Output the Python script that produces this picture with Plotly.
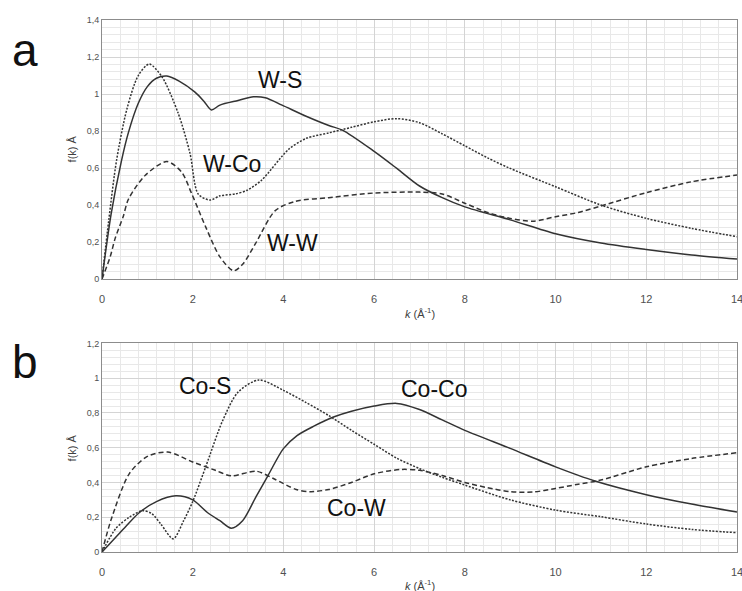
import plotly.graph_objects as go
from plotly.subplots import make_subplots

# ---- panel a: W-centred scattering functions f(k) ----
k_ws = [0, 0.2, 0.43, 0.58, 0.8, 1.0, 1.2, 1.43, 1.7, 2.05, 2.25, 2.41, 2.6, 3.0, 3.34, 3.6, 3.97,
        4.5, 5.0, 5.3, 6.0, 6.5, 7.0, 7.5, 8.0, 9.0, 10.0, 11.0, 12.0, 13.0, 14.0]
f_ws = [0, 0.35, 0.64, 0.79, 0.95, 1.04, 1.085, 1.097, 1.07, 1.01, 0.96, 0.914, 0.94, 0.965, 0.985, 0.98, 0.94,
        0.88, 0.83, 0.805, 0.69, 0.598, 0.503, 0.44, 0.39, 0.32, 0.245, 0.195, 0.16, 0.13, 0.108]

k_wco = [0, 0.15, 0.32, 0.55, 0.8, 1.04, 1.32, 1.68, 1.94, 2.12, 2.38, 2.6, 2.94, 3.2, 3.52, 4.11, 4.5,
         5.0, 5.5, 6.0, 6.5, 7.0, 7.5, 8.0, 8.5, 9.0, 10.0, 11.0, 12.0, 13.0, 14.0]
f_wco = [0, 0.32, 0.64, 0.92, 1.10, 1.162, 1.094, 0.896, 0.68, 0.46, 0.427, 0.45, 0.46, 0.48, 0.535, 0.70, 0.76,
         0.79, 0.82, 0.85, 0.867, 0.845, 0.785, 0.72, 0.655, 0.598, 0.499, 0.40, 0.328, 0.274, 0.229]

k_ww = [0, 0.18, 0.29, 0.47, 0.58, 0.95, 1.43, 1.75, 1.98, 2.3, 2.6, 2.9, 3.1, 3.38, 3.82, 4.26, 5.0,
        6.0, 7.0, 7.5, 8.0, 8.5, 9.0, 9.5, 10.0, 10.5, 11.0, 12.0, 13.0, 14.0]
f_ww = [0, 0.12, 0.22, 0.34, 0.43, 0.56, 0.635, 0.58, 0.46, 0.274, 0.12, 0.045, 0.08, 0.19, 0.37, 0.42, 0.44,
        0.465, 0.47, 0.46, 0.41, 0.36, 0.328, 0.313, 0.337, 0.36, 0.395, 0.467, 0.526, 0.562]

# ---- panel b: Co-centred scattering functions f(k) ----
k_cos = [0, 0.31, 0.6, 0.9, 1.1, 1.3, 1.57, 1.8, 2.0, 2.3, 2.66, 3.0, 3.46, 4.0, 4.5, 5.0, 5.5, 6.0,
         6.5, 7.0, 7.5, 8.0, 9.0, 10.0, 11.0, 12.0, 13.0, 14.0]
f_cos = [0, 0.137, 0.2, 0.238, 0.22, 0.16, 0.076, 0.18, 0.29, 0.5, 0.756, 0.92, 0.99, 0.93, 0.86, 0.785, 0.70, 0.62,
         0.54, 0.48, 0.43, 0.385, 0.30, 0.241, 0.203, 0.161, 0.13, 0.111]

k_coco = [0, 0.5, 0.82, 1.2, 1.63, 2.0, 2.33, 2.6, 2.85, 3.1, 3.4, 3.66, 4.0, 4.3, 4.67, 5.12, 5.5, 6.0,
          6.5, 7.0, 7.5, 8.0, 9.0, 10.0, 10.85, 12.0, 13.0, 14.0]
f_coco = [0, 0.14, 0.226, 0.29, 0.323, 0.30, 0.226, 0.18, 0.137, 0.18, 0.32, 0.44, 0.595, 0.67, 0.724, 0.778, 0.81, 0.84,
          0.855, 0.82, 0.76, 0.70, 0.596, 0.49, 0.41, 0.33, 0.276, 0.23]

k_cow = [0, 0.2, 0.6, 1.0, 1.45, 2.0, 2.5, 2.85, 3.4, 3.8, 4.28, 4.6, 5.0, 5.5, 6.0, 6.6, 7.0, 7.5,
         8.0, 8.5, 9.0, 9.5, 10.0, 10.5, 11.0, 12.0, 13.0, 14.0]
f_cow = [0, 0.185, 0.45, 0.55, 0.575, 0.518, 0.47, 0.438, 0.465, 0.42, 0.36, 0.347, 0.36, 0.40, 0.45, 0.475, 0.47, 0.44,
         0.40, 0.37, 0.347, 0.345, 0.366, 0.39, 0.414, 0.49, 0.538, 0.571]

x_ticks = [0, 2, 4, 6, 8, 10, 12, 14]

LINE = "#333333"
SOLID = "solid"
FINE = "2px,1.5px"
DASH = "5px,3px"

fig = make_subplots(rows=2, cols=1)

def add(kv, fv, dash, row):
    fig.add_trace(go.Scatter(x=kv, y=fv, mode="lines",
                             line=dict(color=LINE, width=1.5, dash=dash, shape="spline", smoothing=0.8),
                             showlegend=False, hoverinfo="skip", cliponaxis=False), row=row, col=1)

add(k_ws, f_ws, SOLID, 1)
add(k_wco, f_wco, FINE, 1)
add(k_ww, f_ww, DASH, 1)
add(k_cos, f_cos, FINE, 2)
add(k_coco, f_coco, SOLID, 2)
add(k_cow, f_cow, DASH, 2)

axis_common = dict(showline=True, mirror=True, linecolor="#8c8c8c", linewidth=1, automargin=False,
                   gridcolor="#d4d4d4", gridwidth=1, zeroline=False, ticks="")

fig.update_xaxes(range=[0, 14], tickvals=x_ticks, ticklabelstandoff=10, ticklabeloverflow="allow",
                 tickfont=dict(family="Liberation Sans, Arial, sans-serif", size=11, color="#505050"),
                 minor=dict(dtick=0.4, showgrid=True, gridcolor="#e8e8e8", gridwidth=1),
                 **axis_common)
fig.update_yaxes(tickfont=dict(family="Liberation Sans, Arial, sans-serif", size=9, color="#505050"),
                 minor=dict(dtick=0.04, showgrid=True, gridcolor="#e8e8e8", gridwidth=1),
                 **axis_common)
fig.update_yaxes(range=[0, 1.4], dtick=0.2, domain=[0.513, 1], row=1, col=1)
fig.update_yaxes(range=[0, 1.2], dtick=0.2, domain=[0, 0.392], row=2, col=1)

ann = []
font_lbl = dict(family="Liberation Sans, Arial, sans-serif", size=23, color="#111111")
for txt, x, y, ref in [("W-S", 3.93, 1.076, "1"), ("W-Co", 2.87, 0.62, "1"), ("W-W", 4.21, 0.195, "1"),
                       ("Co-S", 2.26, 0.954, "2"), ("Co-Co", 7.33, 0.94, "2"), ("Co-W", 5.61, 0.253, "2")]:
    ann.append(dict(text=txt, x=x, y=y, xref="x" + ("" if ref == "1" else "2"),
                    yref="y" + ("" if ref == "1" else "2"), showarrow=False, font=font_lbl,
                    xanchor="center", yanchor="middle"))

font_panel = dict(family="Liberation Sans, Arial, sans-serif", size=46, color="#111111")
ann.append(dict(text="a", x=-0.121, y=0.944, xref="paper", yref="paper", showarrow=False,
                font=font_panel, xanchor="center", yanchor="middle"))
ann.append(dict(text="b", x=-0.121, y=0.357, xref="paper", yref="paper", showarrow=False,
                font=font_panel, xanchor="center", yanchor="middle"))

font_ax = dict(family="Liberation Sans, Arial, sans-serif", size=11, color="#404040")
for yy in [0.449, -0.062]:
    ann.append(dict(text="<i>k</i> (Å<sup>-1</sup>)", x=0.5, y=yy, xref="paper", yref="paper",
                    showarrow=False, font=font_ax, xanchor="center", yanchor="middle"))
for yy in [0.757, 0.195]:
    ann.append(dict(text="f(k) Å", x=-0.047, y=yy, xref="paper", yref="paper", textangle=-90,
                    showarrow=False, font=font_ax, xanchor="center", yanchor="middle"))

fig.update_layout(width=742, height=591, margin=dict(l=102, r=5, t=20, b=39, autoexpand=False),
                  paper_bgcolor="white", plot_bgcolor="white", separators=", ",
                  annotations=ann, font=dict(family="Liberation Sans, Arial, sans-serif"))

fig.write_html("out.html")
